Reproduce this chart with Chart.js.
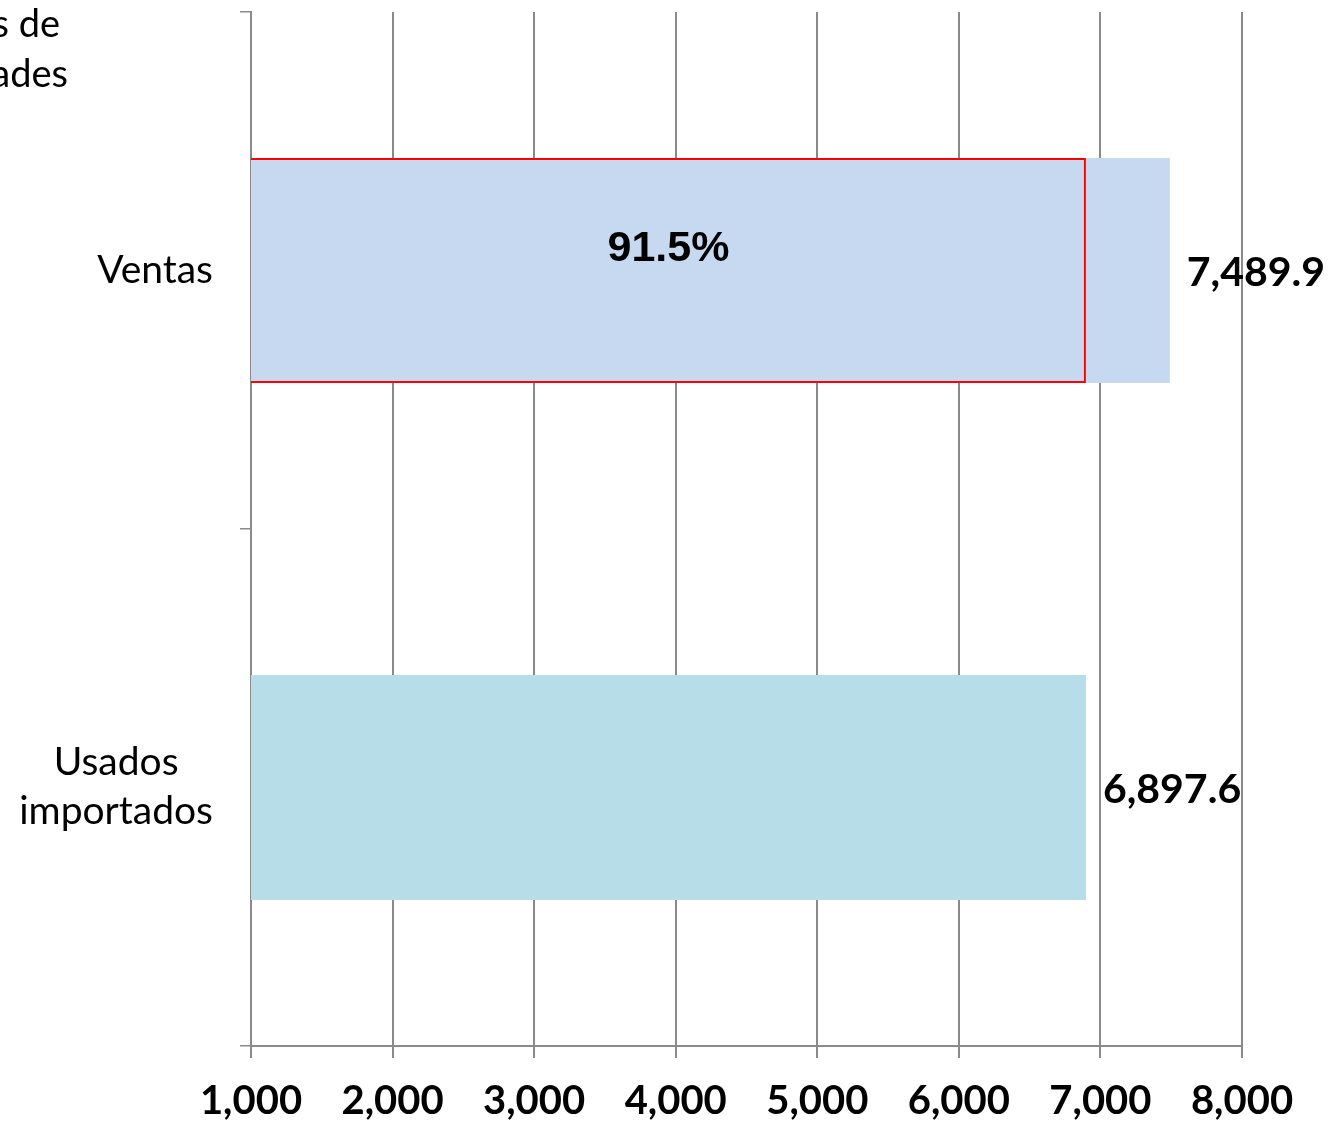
<!DOCTYPE html>
<html>
<head>
<meta charset="utf-8">
<script src="https://cdn.jsdelivr.net/npm/chart.js@4"></script>
<style>
    body { margin: 0; background: #fff; }
    .chart { width: 1332px; height: 1122px; }
</style>
</head>
<body>
<div class="chart">
    <canvas id="autos"></canvas>
</div>
<script>
// data
const categories = [['Ventas'], ['Usados', 'importados']]
const totals = [7489.9, 6897.6]
const importedShare = [6897.6, null]
const shareLabels = ['91.5%', '']
const tick_min = 1000
const tick_max = 8000
const tick_step = 1000
const axisTitle = ['Miles de', 'unidades']

const grey = '#8a8a8a'

Chart.defaults.font.family = 'Lato, "Open Sans", sans-serif'
Chart.defaults.color = '#000'

const labelsPlugin = {
    id: 'labels',
    afterDraw(chart) {
        const ctx = chart.ctx
        const y = chart.scales.y
        const left = chart.chartArea.left
        ctx.save()
        ctx.fillStyle = '#000'

        // axis title, cut by the left edge
        ctx.font = '38px Lato'
        ctx.textAlign = 'right'
        ctx.textBaseline = 'alphabetic'
        ctx.fillText(axisTitle[0], 60, 37)
        ctx.fillText(axisTitle[1], 68, 87)

        // category labels, lines centered on each other
        ctx.font = '39px Lato'
        categories.forEach((lines, i) => {
            const cy = y.getPixelForValue(i)
            let maxW = 0
            lines.forEach((l) => { maxW = Math.max(maxW, ctx.measureText(l).width) })
            const cx = 213 - maxW / 2
            ctx.textAlign = 'center'
            lines.forEach((l, k) => {
                ctx.fillText(l, cx, cy + 12 + (k - (lines.length - 1) / 2) * 49)
            })
        })

        // values at the end of the bars
        const meta = chart.getDatasetMeta(1)
        ctx.font = 'bold 41px Lato'
        ctx.textAlign = 'left'
        meta.data.forEach((bar, i) => {
            ctx.fillText(totals[i].toLocaleString('en-US', {minimumFractionDigits: 1}), bar.x + 17, bar.y + 15)
        })

        // share inside the red box
        const share = chart.getDatasetMeta(0)
        ctx.font = 'bold 43px "Liberation Sans", Arial, sans-serif'
        ctx.textAlign = 'center'
        share.data.forEach((bar, i) => {
            if (shareLabels[i]) {
                const start = Math.max(bar.base, left)
                ctx.fillText(shareLabels[i], (start + bar.x) / 2, bar.y - 10)
            }
        })
        ctx.restore()
    }
}

new Chart(document.getElementById('autos'), {
    type: 'bar',
    data: {
        labels: categories,
        datasets: [{
            data: importedShare,
            backgroundColor: 'rgba(0, 0, 0, 0)',
            borderColor: '#ff0000',
            borderWidth: 2,
            order: 0
        },
        {
            data: totals,
            backgroundColor: ['#c6d9f1', '#b7dde8'],
            order: 1
        }]
    },
    options: {
        indexAxis: 'y',
        animation: false,
        responsive: true,
        maintainAspectRatio: false,
        layout: {
            padding: {top: 12, right: 90, left: 0, bottom: 0}
        },
        datasets: {
            bar: {
                grouped: false,
                categoryPercentage: 1,
                barPercentage: 0.435
            }
        },
        plugins: {
            legend: {display: false},
            tooltip: {enabled: false}
        },
        scales: {
            x: {
                min: tick_min,
                max: tick_max,
                afterFit: (scale) => { scale.height = 76 },
                ticks: {
                    stepSize: tick_step,
                    padding: 19,
                    maxRotation: 0,
                    font: {size: 40, weight: 'bold'},
                    callback: (v) => v.toLocaleString('en-US')
                },
                grid: {
                    color: grey,
                    lineWidth: 2,
                    tickLength: 12
                },
                border: {color: grey, width: 2}
            },
            y: {
                afterFit: (scale) => { scale.width = 251 },
                ticks: {display: false},
                grid: {
                    color: grey,
                    lineWidth: 1.5,
                    tickLength: 11,
                    drawOnChartArea: false
                },
                border: {color: grey, width: 2}
            }
        }
    },
    plugins: [labelsPlugin]
})
</script>
</body>
</html>
